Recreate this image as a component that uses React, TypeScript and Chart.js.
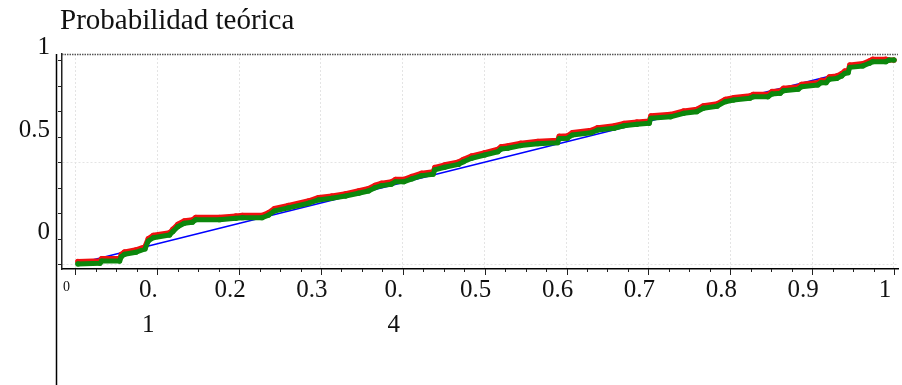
import React, { useEffect, useRef } from 'react';
import { Chart, registerables } from 'chart.js';

Chart.register(...registerables);

// ---------- data ----------
const yAxisTitle = 'Probabilidad teórica';

const xTickValues = [0, 0.1, 0.2, 0.3, 0.4, 0.5, 0.6, 0.7, 0.8, 0.9, 1];
const xTickLabels: (string | string[])[] = ['0', ['0.', '1'], '0.2', '0.3', ['0.', '4'], '0.5', '0.6', '0.7', '0.8', '0.9', '1'];
const xMinorStep = 0.025;

const yTickValues = [0, 0.5, 1];
const yTickLabels = ['0', '0.5', '1'];
const yMinorStep = 0.125;

// shared x (probabilities) for both empirical series
const probX = [
  0.003, 0.030, 0.032, 0.054, 0.056, 0.060, 0.074, 0.085, 0.089, 0.095,
  0.115, 0.119, 0.125, 0.133, 0.143, 0.147, 0.176, 0.196, 0.204, 0.228,
  0.236, 0.243, 0.260, 0.285, 0.297, 0.313, 0.330, 0.346, 0.358, 0.366,
  0.374, 0.386, 0.391, 0.401, 0.411, 0.423, 0.437, 0.439, 0.451, 0.468,
  0.474, 0.484, 0.500, 0.516, 0.520, 0.528, 0.544, 0.565, 0.589, 0.591,
  0.601, 0.607, 0.630, 0.638, 0.658, 0.670, 0.686, 0.701, 0.703, 0.727,
  0.743, 0.759, 0.767, 0.784, 0.794, 0.804, 0.824, 0.828, 0.846, 0.851,
  0.861, 0.865, 0.883, 0.887, 0.907, 0.911, 0.917, 0.921, 0.930, 0.936,
  0.940, 0.944, 0.946, 0.962, 0.970, 0.974, 0.990, 0.994, 1.000,
];

const greenY = [
  0.002, 0.005, 0.016, 0.016, 0.037, 0.049, 0.059, 0.075, 0.114, 0.130,
  0.143, 0.160, 0.184, 0.201, 0.206, 0.218, 0.218, 0.225, 0.228, 0.228,
  0.241, 0.261, 0.276, 0.299, 0.315, 0.323, 0.334, 0.348, 0.359, 0.375,
  0.385, 0.392, 0.404, 0.404, 0.418, 0.434, 0.441, 0.462, 0.475, 0.489,
  0.502, 0.519, 0.535, 0.551, 0.564, 0.568, 0.581, 0.590, 0.595, 0.615,
  0.617, 0.633, 0.644, 0.657, 0.666, 0.678, 0.685, 0.690, 0.715, 0.722,
  0.739, 0.747, 0.764, 0.774, 0.796, 0.804, 0.813, 0.820, 0.820, 0.834,
  0.837, 0.850, 0.857, 0.869, 0.878, 0.889, 0.889, 0.906, 0.910, 0.922,
  0.935, 0.938, 0.964, 0.971, 0.984, 0.992, 0.992, 1.000, 1.000,
];

const redY = [
  0.014, 0.017, 0.028, 0.028, 0.049, 0.061, 0.071, 0.087, 0.126, 0.142,
  0.155, 0.172, 0.196, 0.213, 0.218, 0.230, 0.230, 0.237, 0.240, 0.240,
  0.253, 0.273, 0.288, 0.311, 0.327, 0.335, 0.346, 0.360, 0.371, 0.387,
  0.397, 0.404, 0.416, 0.416, 0.430, 0.446, 0.453, 0.474, 0.487, 0.501,
  0.514, 0.531, 0.547, 0.563, 0.576, 0.580, 0.593, 0.602, 0.607, 0.627,
  0.629, 0.645, 0.656, 0.669, 0.678, 0.690, 0.697, 0.702, 0.727, 0.734,
  0.751, 0.759, 0.776, 0.786, 0.808, 0.816, 0.825, 0.832, 0.832, 0.846,
  0.849, 0.862, 0.869, 0.881, 0.890, 0.901, 0.901, 0.918, 0.922, 0.934,
  0.947, 0.950, 0.976, 0.983, 0.996, 1.004, 1.004, 1.000, 1.000,
];

// reference diagonal (y = x) end points
const diagonalX = [0.012, 0.943];

// ---------- helpers ----------
const FONT = '"Liberation Serif", "Times New Roman", serif';
const near = (a: number, b: number) => Math.abs(a - b) < 1e-6;

const decorPlugin = {
  id: 'decor',
  afterDraw(chart: any) {
    const { ctx, chartArea, scales } = chart;
    const x = scales.x;
    const y = scales.y;
    ctx.save();

    // dotted top border
    ctx.strokeStyle = '#555';
    ctx.lineWidth = 1.5;
    ctx.setLineDash([1.5, 1]);
    ctx.beginPath();
    ctx.moveTo(chartArea.left, chartArea.top + 0.5);
    ctx.lineTo(chartArea.right, chartArea.top + 0.5);
    ctx.stroke();
    ctx.setLineDash([]);

    // outer vertical line on the left
    ctx.strokeStyle = '#000';
    ctx.lineWidth = 1.5;
    ctx.beginPath();
    ctx.moveTo(chartArea.left - 5.5, chartArea.top);
    ctx.lineTo(chartArea.left - 5.5, chart.height);
    ctx.stroke();

    // x tick marks (major every 0.1, minor every 0.025)
    ctx.strokeStyle = '#222';
    ctx.lineWidth = 1;
    const nx = Math.round(1 / xMinorStep);
    for (let k = 0; k <= nx; k++) {
      const px = Math.round(x.getPixelForValue(k * xMinorStep)) + 0.5;
      const len = k % 4 === 0 ? 6 : 3;
      ctx.beginPath();
      ctx.moveTo(px, chartArea.bottom);
      ctx.lineTo(px, chartArea.bottom + len);
      ctx.stroke();
    }

    // y tick marks every 0.125
    const ny = Math.round(1 / yMinorStep);
    for (let k = 0; k <= ny; k++) {
      const py = Math.round(y.getPixelForValue(k * yMinorStep)) + 0.5;
      ctx.beginPath();
      ctx.moveTo(chartArea.left - 4, py);
      ctx.lineTo(chartArea.left, py);
      ctx.stroke();
    }

    // y tick labels (shifted upward as in the original)
    ctx.fillStyle = '#111';
    ctx.font = `25px ${FONT}`;
    ctx.textAlign = 'right';
    ctx.textBaseline = 'middle';
    yTickValues.forEach((v, i) => {
      let py = y.getPixelForValue(v) - 32;
      py = Math.max(py, chartArea.top - 7);
      ctx.fillText(yTickLabels[i], chartArea.left - 12, py);
    });

    // axis title at top-left
    ctx.font = `29px ${FONT}`;
    ctx.textAlign = 'left';
    ctx.textBaseline = 'alphabetic';
    ctx.fillText(yAxisTitle, 60, 28.5);

    ctx.restore();
  },
};

export default function App() {
  const canvasRef = useRef<HTMLCanvasElement | null>(null);

  useEffect(() => {
    document.body.style.margin = '0';
    const canvas = canvasRef.current;
    if (!canvas) return;

    const toPts = (ys: number[]) => probX.map((xv, i) => ({ x: xv, y: ys[i] }));

    const chart = new Chart(canvas, {
      type: 'scatter',
      data: {
        datasets: [
          {
            label: 'verde',
            data: toPts(greenY),
            showLine: true,
            borderColor: '#0c870c',
            backgroundColor: '#0c870c',
            borderWidth: 5,
            pointRadius: 2.6,
            pointBorderWidth: 0,
            borderJoinStyle: 'round',
            borderCapStyle: 'round',
            tension: 0,
            order: 0,
          },
          {
            label: 'rojo',
            data: toPts(redY),
            showLine: true,
            borderColor: '#f01010',
            backgroundColor: '#f01010',
            borderWidth: 5,
            pointRadius: 2.6,
            pointBorderWidth: 0,
            borderJoinStyle: 'round',
            borderCapStyle: 'round',
            tension: 0,
            order: 1,
          },
          {
            label: 'diagonal',
            data: diagonalX.map((v) => ({ x: v, y: v })),
            showLine: true,
            borderColor: '#0000ff',
            backgroundColor: '#0000ff',
            borderWidth: 1.5,
            pointRadius: 0,
            tension: 0,
            order: 2,
          },
        ],
      },
      options: {
        responsive: false,
        animation: false,
        devicePixelRatio: 1,
        layout: { padding: { top: 54, left: 0, right: 0, bottom: 0 } },
        plugins: {
          legend: { display: false },
          title: { display: false },
          tooltip: { enabled: false },
        },
        scales: {
          x: {
            type: 'linear',
            min: -0.0164,
            max: 1.0049,
            afterFit: (s: any) => {
              s.height = 116;
              s.paddingLeft = 0;
              s.paddingRight = 0;
            },
            border: { display: true, color: '#000', width: 1.5, dash: [2, 2] },
            grid: {
              color: '#e4e4e4',
              lineWidth: 1,
              drawTicks: false,
            },
            ticks: {
              stepSize: 0.1,
              includeBounds: false,
              autoSkip: false,
              maxRotation: 0,
              minRotation: 0,
              labelOffset: -9,
              padding: 4,
              color: '#111',
              font: (ctx: any) =>
                ctx.tick && near(ctx.tick.value, 0)
                  ? { family: FONT, size: 14, lineHeight: 2.1 }
                  : { family: FONT, size: 25, lineHeight: 1.4 },
              callback: (v: any) => {
                const i = xTickValues.findIndex((t) => near(t, Number(v)));
                return i >= 0 ? xTickLabels[i] : '';
              },
            },
          },
          y: {
            type: 'linear',
            min: -0.023,
            max: 1.0294,
            afterFit: (s: any) => {
              s.width = 62;
              s.paddingTop = 0;
              s.paddingBottom = 0;
            },
            border: { display: true, color: '#222', width: 1.5, dash: [2, 2] },
            grid: {
              color: (ctx: any) =>
                ctx.tick && near(ctx.tick.value, 1) ? 'rgba(0,0,0,0)' : '#e4e4e4',
              lineWidth: 1,
              drawTicks: false,
            },
            ticks: {
              display: false,
              stepSize: 0.5,
              includeBounds: false,
            },
          },
        },
      },
      plugins: [decorPlugin],
    } as any);

    return () => chart.destroy();
  }, []);

  return (
    <div style={{ width: 902, height: 385, background: '#fff' }}>
      <canvas ref={canvasRef} width={902} height={385} style={{ display: 'block' }} />
    </div>
  );
}
